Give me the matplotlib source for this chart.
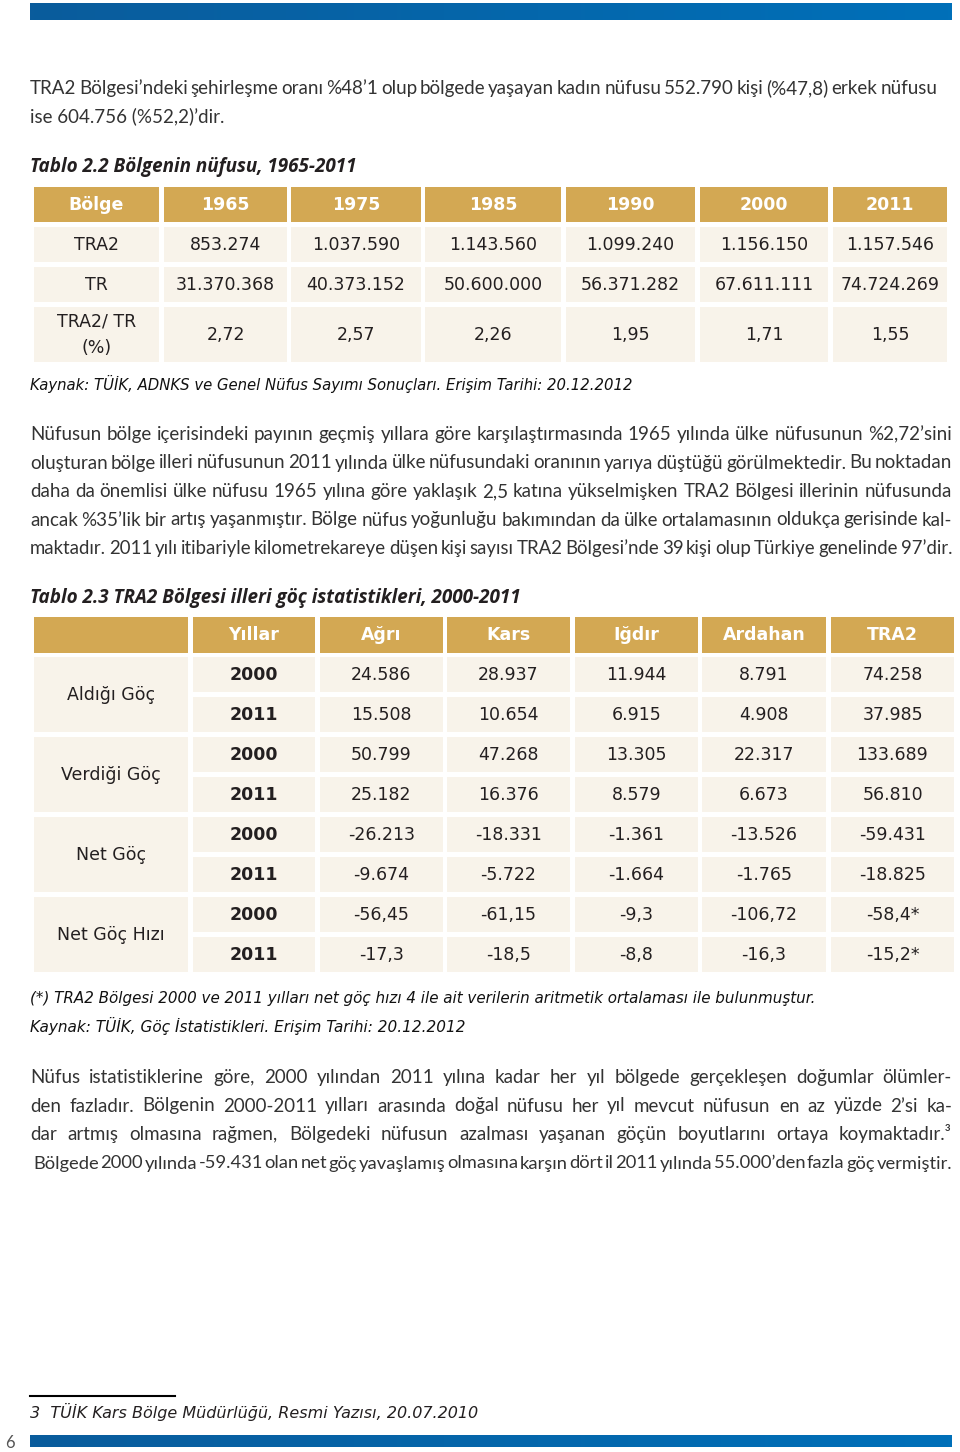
import numpy as np
import matplotlib.pyplot as plt
from matplotlib.patches import Rectangle
from matplotlib.colors import LinearSegmentedColormap

# Tablo 2.2 verileri
years_pop = ["1965", "1975", "1985", "1990", "2000", "2011"]
tra2_pop = ["853.274", "1.037.590", "1.143.560", "1.099.240", "1.156.150", "1.157.546"]
tr_pop = ["31.370.368", "40.373.152", "50.600.000", "56.371.282", "67.611.111", "74.724.269"]
ratio_pct = ["2,72", "2,57", "2,26", "1,95", "1,71", "1,55"]

# Tablo 2.3 verileri
provinces = ["Ağrı", "Kars", "Iğdır", "Ardahan", "TRA2"]
groups = ["Aldığı Göç", "Verdiği Göç", "Net Göç", "Net Göç Hızı"]
row_years = ["2000", "2011"]
aldigi = [["24.586", "28.937", "11.944", "8.791", "74.258"],
          ["15.508", "10.654", "6.915", "4.908", "37.985"]]
verdigi = [["50.799", "47.268", "13.305", "22.317", "133.689"],
           ["25.182", "16.376", "8.579", "6.673", "56.810"]]
net = [["-26.213", "-18.331", "-1.361", "-13.526", "-59.431"],
       ["-9.674", "-5.722", "-1.664", "-1.765", "-18.825"]]
net_hiz = [["-56,45", "-61,15", "-9,3", "-106,72", "-58,4*"],
           ["-17,3", "-18,5", "-8,8", "-16,3", "-15,2*"]]

para1 = ["TRA2 Bölgesi’ndeki şehirleşme oranı %48’1 olup bölgede yaşayan kadın nüfusu 552.790 kişi (%47,8) erkek nüfusu",
         "ise 604.756 (%52,2)’dir."]
para2 = ["Nüfusun bölge içerisindeki payının geçmiş yıllara göre karşılaştırmasında 1965 yılında ülke nüfusunun %2,72’sini",
         "oluşturan bölge illeri nüfusunun 2011 yılında ülke nüfusundaki oranının yarıya düştüğü görülmektedir. Bu noktadan",
         "daha da önemlisi ülke nüfusu 1965 yılına göre yaklaşık 2,5 katına yükselmişken TRA2 Bölgesi illerinin nüfusunda",
         "ancak %35’lik bir artış yaşanmıştır. Bölge nüfus yoğunluğu bakımından da ülke ortalamasının oldukça gerisinde kal-",
         "maktadır. 2011 yılı itibariyle kilometrekareye düşen kişi sayısı TRA2 Bölgesi’nde 39 kişi olup Türkiye genelinde 97’dir."]
para3 = ["Nüfus istatistiklerine göre, 2000 yılından 2011 yılına kadar her yıl bölgede gerçekleşen doğumlar ölümler-",
         "den fazladır. Bölgenin 2000-2011 yılları arasında doğal nüfusu her yıl mevcut nüfusun en az yüzde 2’si ka-",
         "dar artmış olmasına rağmen, Bölgedeki nüfusun azalması yaşanan göçün boyutlarını ortaya koymaktadır.³",
         "Bölgede 2000 yılında -59.431 olan net göç yavaşlamış olmasına karşın dört il 2011 yılında 55.000’den fazla göç vermiştir."]

GOLD = "#d3a853"
CREAM = "#f8f3ea"
TXT = "#231f20"
BODY_C = "#333333"
BODY = ["Lato", "DejaVu Sans"]
TITLE = ["Open Sans", "DejaVu Sans"]
TAB = ["DejaVu Sans"]
BSIZE = 13.5
BASE = 6  # satır ortasından taban çizgisine kaydırma

fig = plt.figure(figsize=(9.6, 14.52), dpi=100)
ax = fig.add_axes([0, 0, 1, 1])
ax.set_xlim(0, 960)
ax.set_ylim(1452, 0)
ax.axis("off")
renderer = fig.canvas.get_renderer()


def blue_bar(y0, y1):
    grad = np.linspace(0, 1, 256).reshape(1, -1)
    cmap = LinearSegmentedColormap.from_list("b", ["#0a5c9c", "#0070b9"])
    ax.imshow(grad, cmap=cmap, extent=(30, 952, y1, y0), aspect="auto", zorder=1)


def justify(line, y, x0, x1, size, min_gap=2.5, **kw):
    # satırı iki yana yasla: kelimeler arası boşluğu dağıt
    words = line.split(" ")
    ts = [ax.text(x0, y + BASE, w, va="baseline", ha="left", fontsize=size, color=BODY_C, **kw) for w in words]
    widths = [t.get_window_extent(renderer).width for t in ts]
    gap = (x1 - x0 - sum(widths)) / max(len(words) - 1, 1)
    if gap < min_gap:
        # sığmıyorsa yazıyı biraz küçült
        for t in ts:
            t.remove()
        scale = (x1 - x0 - min_gap * (len(words) - 1)) / sum(widths)
        return justify(line, y, x0, x1, size * scale, min_gap, **kw)
    x = x0
    for t, w in zip(ts, widths):
        t.set_x(x)
        x += w + gap


def cell(x0, x1, y0, y1, color):
    ax.add_patch(Rectangle((x0, y0), x1 - x0, y1 - y0, facecolor=color, edgecolor="none", zorder=1))


blue_bar(3, 20)
blue_bar(1435, 1447)
ax.text(5, 1443, "6", fontsize=12, color="#555555", va="center", family=BODY)

# paragraf 1
justify(para1[0], 88, 30, 937, BSIZE, family=BODY)
ax.text(30, 116 + BASE, para1[1], fontsize=BSIZE, color=BODY_C, va="baseline", family=BODY)

ax.text(30, 167, "Tablo 2.2 Bölgenin nüfusu, 1965-2011", fontsize=13.6, color=TXT, va="center",
        family=TITLE, fontweight="bold", style="italic")

# Tablo 2.2
c1 = [(34, 159), (164, 287), (291, 421), (425, 561), (566, 695), (700, 828), (833, 947)]
r1 = [(187, 222), (227, 262), (267, 302), (307, 362)]
rows1 = [tra2_pop, tr_pop, ratio_pct]
labels1 = ["TRA2", "TR", None]
for j, (x0, x1) in enumerate(c1):
    cell(x0, x1, *r1[0], GOLD)
    head = "Bölge" if j == 0 else years_pop[j - 1]
    ax.text((x0 + x1) / 2, sum(r1[0]) / 2, head, ha="center", va="center", color="white",
            fontsize=12.5, family=TAB, fontweight="bold")
    for i, vals in enumerate(rows1):
        y0, y1 = r1[i + 1]
        cell(x0, x1, y0, y1, CREAM)
        if j == 0:
            if labels1[i] is None:
                ax.text((x0 + x1) / 2, 322, "TRA2/ TR", ha="center", va="center", color=TXT, fontsize=12.5, family=TAB)
                ax.text((x0 + x1) / 2, 348, "(%)", ha="center", va="center", color=TXT, fontsize=12.5, family=TAB)
            else:
                ax.text((x0 + x1) / 2, (y0 + y1) / 2, labels1[i], ha="center", va="center", color=TXT,
                        fontsize=12.5, family=TAB)
        else:
            ax.text((x0 + x1) / 2, (y0 + y1) / 2, vals[j - 1], ha="center", va="center", color=TXT,
                    fontsize=12.5, family=TAB)

ax.text(30, 384, "Kaynak: TÜİK, ADNKS ve Genel Nüfus Sayımı Sonuçları. Erişim Tarihi: 20.12.2012",
        fontsize=10.7, color="#111111", va="center", family=TAB, style="italic")

# paragraf 2
for k, line in enumerate(para2):
    justify(line, 434 + k * 28.5, 30, 952, BSIZE, family=BODY)

ax.text(30, 598, "Tablo 2.3 TRA2 Bölgesi illeri göç istatistikleri, 2000-2011", fontsize=13.6, color=TXT,
        va="center", family=TITLE, fontweight="bold", style="italic")

# Tablo 2.3
c2 = [(34, 188), (193, 315), (320, 443), (447, 570), (575, 698), (702, 826), (831, 954)]
cell(c2[0][0], c2[0][1], 617, 653, GOLD)
heads2 = ["Yıllar"] + provinces
for j, (x0, x1) in enumerate(c2[1:]):
    cell(x0, x1, 617, 653, GOLD)
    ax.text((x0 + x1) / 2, 635, heads2[j], ha="center", va="center", color="white",
            fontsize=12.5, family=TAB, fontweight="bold")

data2 = [aldigi, verdigi, net, net_hiz]
for g, gname in enumerate(groups):
    gy0 = 657 + g * 80
    cell(c2[0][0], c2[0][1], gy0, gy0 + 75, CREAM)
    ax.text(sum(c2[0]) / 2, gy0 + 38, gname, ha="center", va="center", color=TXT, fontsize=12.5, family=TAB)
    for r in range(2):
        y0 = gy0 + r * 40
        yc = y0 + 18
        x0, x1 = c2[1]
        cell(x0, x1, y0, y0 + 35, CREAM)
        ax.text((x0 + x1) / 2, yc, row_years[r], ha="center", va="center", color=TXT,
                fontsize=12.5, family=TAB, fontweight="bold")
        for j, (x0, x1) in enumerate(c2[2:]):
            cell(x0, x1, y0, y0 + 35, CREAM)
            ax.text((x0 + x1) / 2, yc, data2[g][r][j], ha="center", va="center", color=TXT,
                    fontsize=12.5, family=TAB)

ax.text(30, 999, "(*) TRA2 Bölgesi 2000 ve 2011 yılları net göç hızı 4 ile ait verilerin aritmetik ortalaması ile bulunmuştur.",
        fontsize=10.9, color="#111111", va="center", family=TAB, style="italic")
ax.text(30, 1026, "Kaynak: TÜİK, Göç İstatistikleri. Erişim Tarihi: 20.12.2012",
        fontsize=11, color="#111111", va="center", family=TAB, style="italic")

# paragraf 3
for k, line in enumerate(para3):
    x0 = 33 if k == 3 else 30
    justify(line, 1077 + k * 28.5, x0, 952, BSIZE, min_gap=1.5 if k == 3 else 2.5, family=BODY)

ax.plot([30, 175], [1396, 1396], color="black", lw=1.5)
ax.text(30, 1412, "3  TÜİK Kars Bölge Müdürlüğü, Resmi Yazısı, 20.07.2010",
        fontsize=11.5, color=TXT, va="center", family=TAB, style="italic")

fig.savefig("out.png", dpi=100)
